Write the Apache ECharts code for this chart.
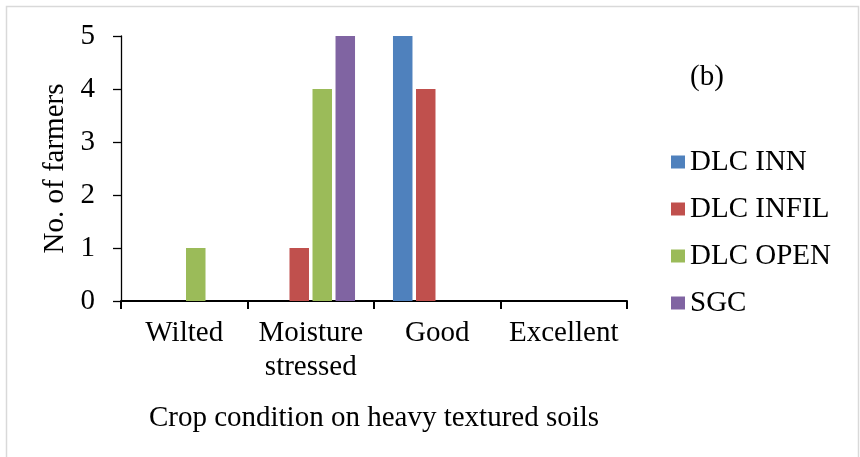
<!DOCTYPE html>
<html>
<head>
<meta charset="utf-8">
<script src="https://cdn.jsdelivr.net/npm/echarts@6/dist/echarts.min.js"></script>
<style>
html,body{margin:0;padding:0;background:#fff;}
#chart{width:860px;height:457px;}
</style>
</head>
<body>
<div id="chart"></div>
<script>
const categories = ['Wilted', 'Moisture\nstressed', 'Good', 'Excellent'];
const seriesNames = ['DLC INN', 'DLC INFIL', 'DLC OPEN', 'SGC'];
const dlcInn = [0, 0, 5, 0];
const dlcInfil = [0, 1, 4, 0];
const dlcOpen = [1, 4, 0, 0];
const sgc = [0, 5, 0, 0];
const colors = ['#4F81BD', '#C0504D', '#9BBB59', '#8064A2'];
const yTicks = [0, 1, 2, 3, 4, 5];

const FONT = '"Liberation Serif", "Times New Roman", serif';
const values = [dlcInn, dlcInfil, dlcOpen, sgc];

const chart = echarts.init(document.getElementById('chart'), null, {renderer: 'canvas'});
chart.setOption({
  animation: false,
  backgroundColor: '#fff',
  textStyle: {fontFamily: FONT, color: '#000'},
  graphic: [
    {type: 'rect', shape: {x: 6.5, y: 6.5, width: 852, height: 470}, style: {fill: 'none', stroke: '#d9d9d9', lineWidth: 1.5}, silent: true},
    {type: 'text', left: 690, top: 63, style: {text: '(b)', font: '29px ' + FONT, fill: '#000'}}
  ],
  grid: {left: 121, right: 233, top: 36, bottom: 156},
  legend: {
    orient: 'vertical',
    left: 671,
    top: 147,
    padding: 0,
    itemWidth: 14,
    itemHeight: 13,
    itemGap: 17,
    icon: 'rect',
    textStyle: {fontFamily: FONT, fontSize: 29, color: '#000', lineHeight: 30},
    data: seriesNames
  },
  xAxis: {
    type: 'category',
    data: categories,
    name: 'Crop condition on heavy textured soils',
    nameLocation: 'middle',
    nameGap: 103,
    nameTextStyle: {fontFamily: FONT, fontSize: 29, color: '#000'},
    axisLine: {lineStyle: {color: '#000', width: 2}},
    axisTick: {show: true, length: 8, lineStyle: {color: '#000', width: 2}},
    axisLabel: {fontFamily: FONT, fontSize: 29, color: '#000', margin: 15, lineHeight: 34, interval: 0}
  },
  yAxis: {
    type: 'value',
    min: 0,
    max: 5,
    interval: 1,
    name: 'No. of farmers',
    nameLocation: 'middle',
    nameGap: 47,
    nameRotate: 90,
    nameTextStyle: {fontFamily: FONT, fontSize: 29, color: '#000'},
    splitLine: {show: false},
    axisLine: {show: true, lineStyle: {color: '#000', width: 1.3}},
    axisTick: {show: true, length: 8, lineStyle: {color: '#000', width: 1.3}},
    axisLabel: {fontFamily: FONT, fontSize: 29, color: '#000', margin: 26,
      formatter: v => yTicks.includes(v) ? String(v) : ''}
  },
  series: seriesNames.map((n, i) => ({
    name: n,
    type: 'bar',
    data: values[i],
    barCategoryGap: '30%',
    barGap: '18%',
    itemStyle: {color: colors[i]}
  }))
});
</script>
</body>
</html>
